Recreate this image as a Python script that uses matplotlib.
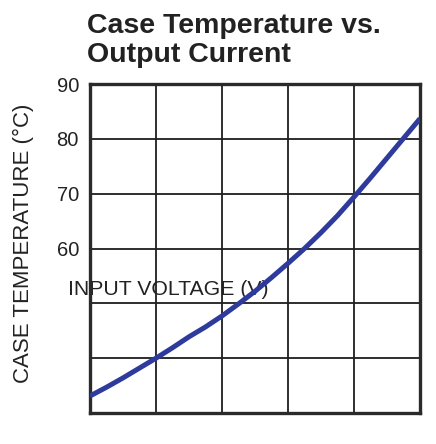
import matplotlib.pyplot as plt

# curve (x in grid units, temperature in C)
VOLTAGE = [0, 0.25, 0.5, 0.75, 1, 1.25, 1.5, 1.75, 2, 2.25, 2.5,
           2.75, 3, 3.25, 3.5, 3.75, 4, 4.25, 4.5, 4.75, 5]
CASE_TEMP = [33.1, 34.7, 36.4, 38.2, 40.0, 41.9, 43.9, 45.7, 47.7, 49.9, 52.2,
             54.7, 57.3, 60.0, 62.9, 66.0, 69.4, 72.9, 76.5, 80.1, 83.7]

Y_TICKS = [30, 40, 50, 60, 70, 80, 90]
Y_TICK_LABELS = ['', '', '', '60', '70', '80', '90']
X_TICKS = [0, 1, 2, 3, 4, 5]

plt.rcParams['font.family'] = ['Liberation Sans', 'DejaVu Sans']

fig = plt.figure(figsize=(4.36, 4.44), dpi=100)
ax = fig.add_axes([0.2064, 0.0698, 0.757, 0.741])

ax.plot(VOLTAGE, CASE_TEMP, color='#2e3a9c', lw=3.6, solid_capstyle='butt', zorder=3)

ax.set_xlim(0, 5)
ax.set_ylim(30, 90)
ax.set_xticks(X_TICKS)
ax.set_xticklabels([])
ax.set_yticks(Y_TICKS)
ax.set_yticklabels(Y_TICK_LABELS)
ax.tick_params(length=0, labelsize=14.5, colors='#222222', pad=8)
ax.grid(True, color='#1e1e1e', lw=1.3)

for s in ax.spines.values():
    s.set_linewidth(2.4)
    s.set_color('#2a2a2a')

ax.set_ylabel('CASE TEMPERATURE (°C)', fontsize=16, color='#222222')
ax.yaxis.set_label_coords(-0.17, 0.515)
ax.set_xlabel('INPUT VOLTAGE (V)', fontsize=15.3, color='#222222', va='top')
ax.xaxis.set_label_coords(0.236, 0.405)

fig.text(0.2, 0.97, 'Case Temperature vs.\nOutput Current', fontsize=20.5,
         fontweight='bold', color='#222222', ha='left', va='top', linespacing=1.12)

fig.savefig('out.png', dpi=100)
